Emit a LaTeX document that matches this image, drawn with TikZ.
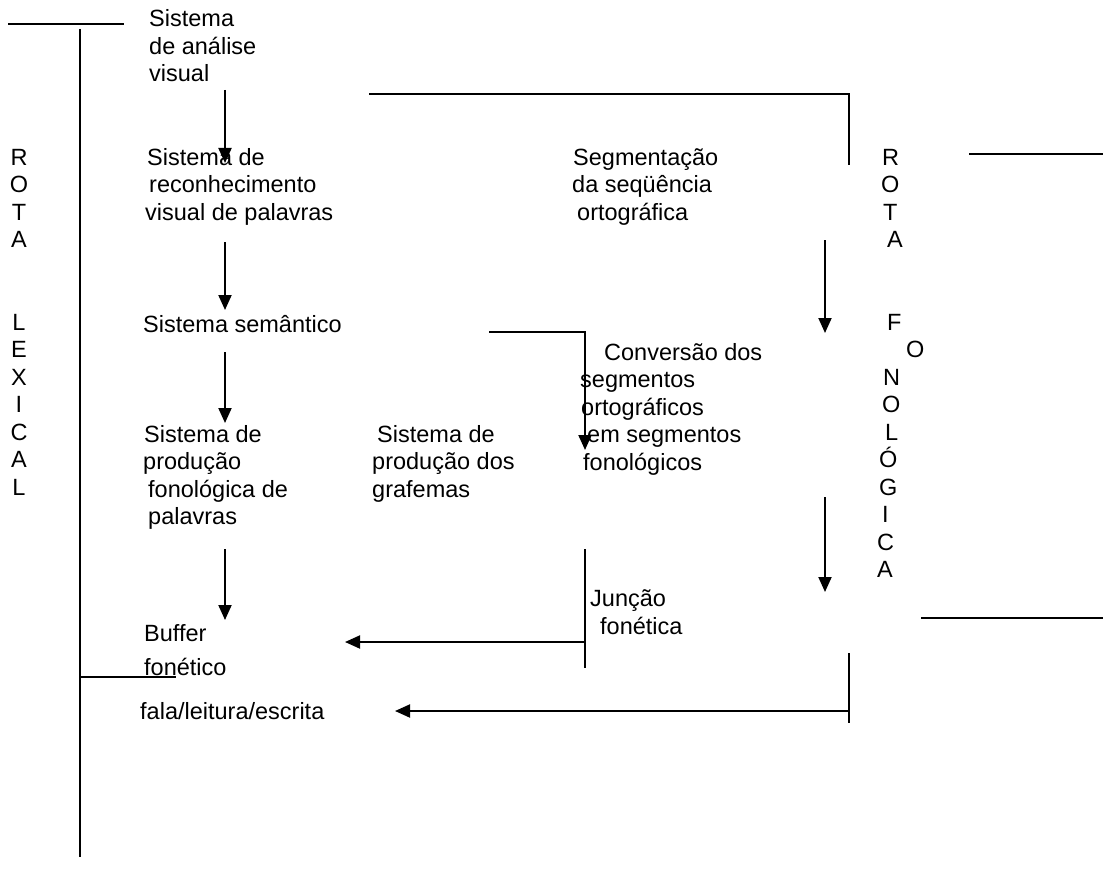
\documentclass[tikz,border=0pt]{standalone}
\usepackage{fontspec}
\setmainfont{Liberation Sans}
\usetikzlibrary{arrows.meta}
\tikzset{
  txt/.style={anchor=base west, inner sep=0pt, align=left, font=\fontsize{23.5}{27.5}\selectfont},
  ln/.style={line width=1.5pt},
  arr/.style={line width=2pt, -{Triangle[width=13pt,length=15pt]}},
}
\begin{document}
\begin{tikzpicture}[x=1pt,y=-1pt]
\useasboundingbox (0,0) rectangle (1103,888);

% texts (positions are the baseline of the last line)
\node[txt] (visual) at (149,82) {Sistema\\de análise\\visual};
\node[txt] (reconh) at (145,220) {\hspace*{2pt}Sistema de\\\hspace*{4pt}reconhecimento\\visual de palavras};
\node[txt] (seman) at (143,332) {Sistema semântico};
\node[txt] (prodfon) at (143,524.5) {\hspace*{1pt}Sistema de\\produção\\\hspace*{5pt}fonológica de\\\hspace*{5pt}palavras};
\node[txt] (graf) at (372,497) {\hspace*{5pt}Sistema de\\produção dos\\grafemas};
\node[txt] (segm) at (572,220) {\hspace*{1pt}Segmentação\\da seqüência\\\hspace*{5pt}ortográfica};
\node[txt] (conv) at (580,470) {\hspace*{24pt}Conversão dos\\segmentos\\\hspace*{1pt}ortográficos\\\hspace*{7pt}em segmentos\\\hspace*{3pt}fonológicos};
\node[txt] (juncao) at (590,634) {Junção\\\hspace*{10pt}fonética};
\node[txt] (buffer) at (144,641) {Buffer};
\node[txt] (fonetico) at (144,675) {fonético};
\node[txt] (fala) at (140,719) {fala/leitura/escrita};

% vertical route labels
\node[txt, anchor=base, align=center] (rotalex) at (19,495)
  {R\\O\\T\\A\\\mbox{}\\\mbox{}\\L\\E\\X\\I\\C\\A\\L};
\node[txt] (rotafon) at (877,577.5)
  {\hspace*{5pt}R\\\hspace*{4pt}O\\\hspace*{6pt}T\\\hspace*{10pt}A\\\mbox{}\\\mbox{}\\\hspace*{10pt}F\\\hspace*{29pt}O\\\hspace*{6pt}N\\\hspace*{5pt}O\\\hspace*{8pt}L\\\hspace*{2pt}Ó\\\hspace*{2pt}G\\\hspace*{5pt}I\\C\\A};

% coordinates
\coordinate (tlA) at (8,24);
\coordinate (tlB) at (124,24);
\coordinate (lexT) at (80,29);
\coordinate (lexB) at (80,857);
\coordinate (fonA) at (80,677);
\coordinate (fonB) at (176,677);
\coordinate (a1s) at (225,90);
\coordinate (a1e) at (225,163);
\coordinate (a2s) at (225,242);
\coordinate (a2e) at (225,310);
\coordinate (a3s) at (225,352);
\coordinate (a3e) at (225,423);
\coordinate (a4s) at (225,549);
\coordinate (a4e) at (225,620);
\coordinate (brA) at (369,94);
\coordinate (brB) at (849,94);
\coordinate (brC) at (849,165);
\coordinate (rlA) at (969,154);
\coordinate (rlB) at (1103,154);
\coordinate (f1s) at (825,240);
\coordinate (f1e) at (825,333);
\coordinate (f2s) at (825,497);
\coordinate (f2e) at (825,592);
\coordinate (rl2A) at (921,618);
\coordinate (rl2B) at (1103,618);
\coordinate (smA) at (489,332);
\coordinate (smB) at (585,332);
\coordinate (smC) at (585,450);
\coordinate (jT) at (585,549);
\coordinate (jB) at (585,668);
\coordinate (jM) at (585,642);
\coordinate (jE) at (345,642);
\coordinate (bT) at (849,653);
\coordinate (bB) at (849,723);
\coordinate (bM) at (849,711);
\coordinate (bE) at (395,711);

% lines
\draw[ln] (tlA) -- (tlB);
\draw[ln] (lexT) -- (lexB);
\draw[ln] (fonA) -- (fonB);
\draw[ln] (brA) -- (brB) -- (brC);
\draw[ln] (rlA) -- (rlB);
\draw[ln] (rl2A) -- (rl2B);
\draw[ln] (jT) -- (jB);
\draw[ln] (bT) -- (bB);

% arrows
\draw[arr] (a1s) -- (a1e);
\draw[arr] (a2s) -- (a2e);
\draw[arr] (a3s) -- (a3e);
\draw[arr] (a4s) -- (a4e);
\draw[arr] (f1s) -- (f1e);
\draw[arr] (f2s) -- (f2e);
\draw[arr] (smA) -- (smB) -- (smC);
\draw[arr] (jM) -- (jE);
\draw[arr] (bM) -- (bE);
\end{tikzpicture}
\end{document}
